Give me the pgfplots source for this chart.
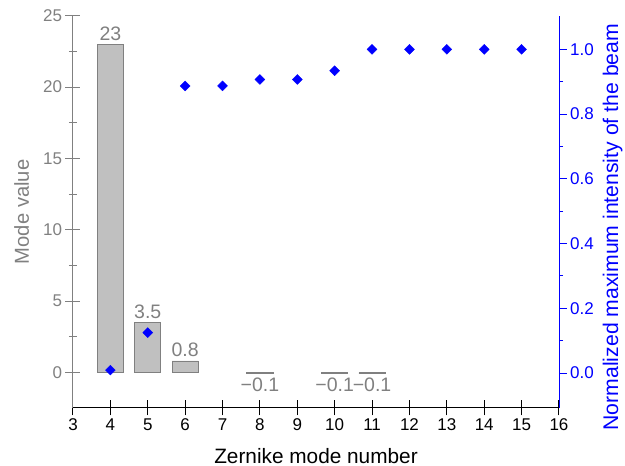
\documentclass[border=0pt]{standalone}
\usepackage{fontspec}
\setmainfont{Liberation Sans}
\usepackage{pgfplots}
\pgfplotsset{compat=1.18}
\definecolor{barfill}{RGB}{192,192,192}
\definecolor{baredge}{RGB}{128,128,128}
\definecolor{axgray}{RGB}{128,128,128}
\definecolor{myblue}{RGB}{0,0,255}
\begin{document}
\begin{tikzpicture}
\useasboundingbox (-73pt,-58pt) rectangle (552pt,408pt);
\begin{axis}[
  at={(0pt,0pt)}, anchor=south west,
  width=486pt, height=392.3pt, scale only axis,
  xmin=3, xmax=16, ymin=-2.5, ymax=25,
  axis x line*=bottom, axis y line*=left,
  x axis line style={black, line width=1pt, -},
  y axis line style={axgray, line width=1pt, -},
  xtick={3,4,5,6,7,8,9,10,11,12,13,14,15,16},
  ytick={0,5,10,15,20,25}, minor y tick num=1,
  tick align=center, major tick length=15pt, minor tick length=8pt,
  xtick style={black, line width=1pt},
  ytick style={axgray, line width=1pt},
  /pgf/number format/assume math mode=true,
  xticklabel style={black, font=\fontsize{17}{19}\selectfont},
  yticklabel style={axgray, font=\fontsize{17}{19}\selectfont},
  xlabel={Zernike mode number},
  ylabel={Mode value},
  xlabel style={black, font=\fontsize{20.8}{22}\selectfont},
  ylabel style={axgray, font=\fontsize{20.2}{22}\selectfont},
  xlabel shift=10pt,
  ylabel shift=7pt,
  clip=false,
]
\addplot[ybar, bar width=0.7, fill=barfill, draw=baredge, line width=0.8pt,
  nodes near coords, point meta=explicit symbolic,
  every node near coord/.append style={axgray, font=\fontsize{19.5}{21}\selectfont}]
  coordinates {(4,23)[23] (5,3.5)[3.5] (6,0.8)[0.8]};
\addplot[ybar, bar width=0.7, fill=barfill, draw=baredge, line width=0.8pt,
  nodes near coords, point meta=explicit symbolic,
  every node near coord/.append style={axgray, font=\fontsize{19.5}{21}\selectfont, anchor=north}]
  coordinates {(8,-0.1)[−0.1] (10,-0.1)[−0.1] (11,-0.1)[−0.1]};
\end{axis}
\begin{axis}[
  at={(0pt,0pt)}, anchor=south west,
  width=486pt, height=392.3pt, scale only axis,
  xmin=3, xmax=16, ymin=-0.108, ymax=1.104,
  axis x line=none, axis y line*=right,
  y axis line style={myblue, line width=1pt, -},
  ytick={0,0.2,0.4,0.6,0.8,1}, minor y tick num=1,
  tick align=outside, major tick length=7.7pt, minor tick length=4pt,
  ytick style={myblue, line width=1pt},
  /pgf/number format/assume math mode=true,
  yticklabel style={myblue, font=\fontsize{17}{19}\selectfont,
    /pgf/number format/.cd, fixed, fixed zerofill, precision=1},
  ylabel={Normalized maximum intensity of the beam},
  ylabel style={myblue, font=\fontsize{21.2}{23}\selectfont,
    at={(axis description cs:1.1105,0.461)}, anchor=center, inner sep=1pt},
  clip=false,
]
\addplot[only marks, mark=square*, mark size=3.5pt, color=myblue,
  mark options={rotate=45, fill=myblue, draw=myblue}]
  coordinates {(4,0.009) (5,0.125) (6,0.887) (7,0.887) (8,0.907) (9,0.907)
  (10,0.934) (11,1.0) (12,1.0) (13,1.0) (14,1.0) (15,1.0)};
\end{axis}
\end{tikzpicture}
\end{document}
